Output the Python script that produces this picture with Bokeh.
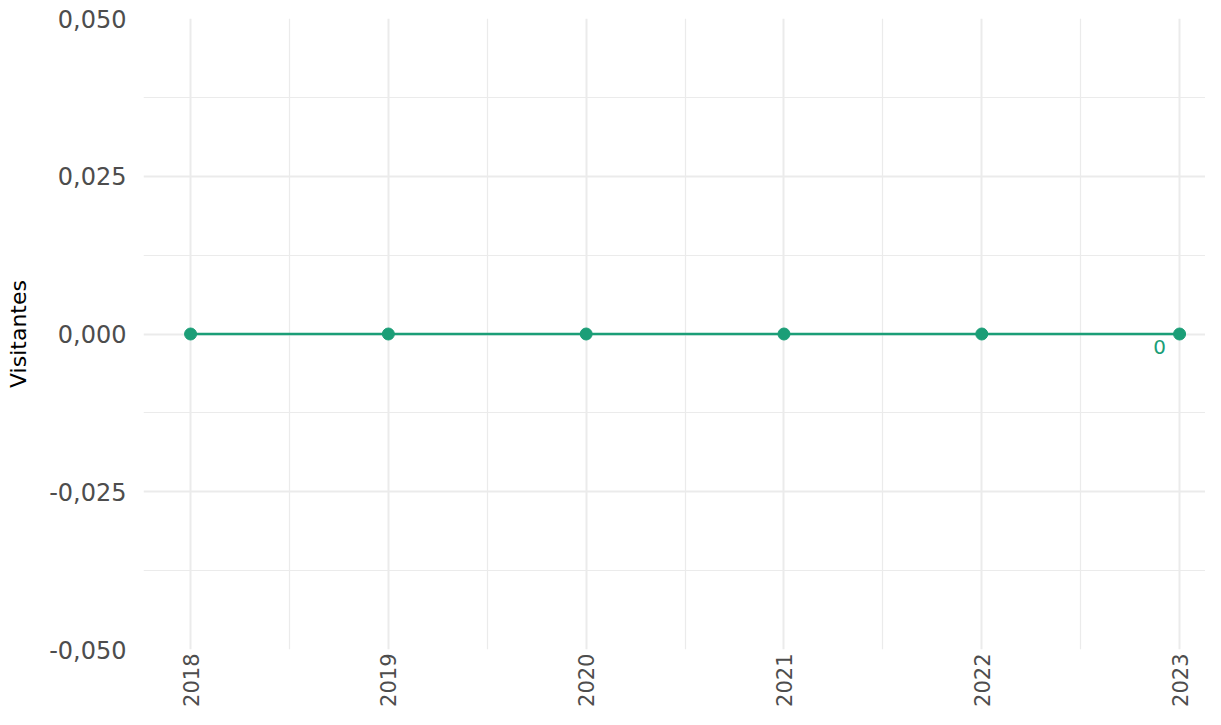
from bokeh.plotting import figure
from bokeh.models import (ColumnDataSource, Range1d, FixedTicker, CustomJSTickFormatter,
                          Label, LabelSet)
from bokeh.core.properties import value
from bokeh.embed import file_html
from bokeh.resources import INLINE

years = [2018, 2019, 2020, 2021, 2022, 2023]
visitors = [0, 0, 0, 0, 0, 0]
y_ticks = [-0.05, -0.025, 0.0, 0.025, 0.05]
y_minor = [-0.0375, -0.0125, 0.0125, 0.0375]
title_text = "Fuente: MinCIT"
y_title = "Visitantes"
last_label = ["0"]

green = "#1b9e77"
font = "DejaVu Sans"

W, H = 1205, 709
LEFT = 143
p = figure(width=W, height=H, output_backend="svg", toolbar_location=None,
           x_range=Range1d(2017.762, 2017.762 + (W - LEFT) / 197.8),
           y_range=Range1d(-0.05, 0.05),
           min_border_left=LEFT, min_border_right=0, min_border_top=18,
           min_border_bottom=H - 652)
p.outline_line_color = None
p.background_fill_color = "white"

# axes
p.xaxis.ticker = FixedTicker(ticks=years, minor_ticks=[y + 0.5 for y in years[:-1]])
p.yaxis.ticker = FixedTicker(ticks=y_ticks, minor_ticks=y_minor)
p.yaxis.formatter = CustomJSTickFormatter(code="return tick.toFixed(3).replace('.', ',');")
p.xaxis.major_label_orientation = 1.5708
for ax in (p.xaxis, p.yaxis):
    ax.axis_line_color = None
    ax.major_tick_line_color = None
    ax.minor_tick_line_color = None
    ax.major_tick_out = 0
    ax.major_tick_in = 0
    ax.minor_tick_out = 0
    ax.minor_tick_in = 0
    ax.major_label_text_font = font
    ax.major_label_text_color = "#4d4d4d"
p.xaxis.major_label_text_font_size = "21px"
p.yaxis.major_label_text_font_size = "24px"
p.yaxis.major_label_standoff = 17
p.xaxis.major_label_standoff = 4
p.yaxis.axis_label = y_title
p.yaxis.axis_label_text_font = font
p.yaxis.axis_label_text_font_size = "22px"
p.yaxis.axis_label_text_font_style = "normal"
p.yaxis.axis_label_text_color = "black"
p.yaxis.axis_label_standoff = 15

# grid
for g in (p.xgrid, p.ygrid):
    g.grid_line_color = "#ebebeb"
    g.grid_line_width = 2
    g.minor_grid_line_color = "#ebebeb"
    g.minor_grid_line_width = 1.2

src = ColumnDataSource(dict(x=years, y=visitors))
p.line("x", "y", source=src, line_color=green, line_width=2.5)
p.scatter("x", "y", source=src, size=12, fill_color=green, line_color=green)

lab_src = ColumnDataSource(dict(x=years[-1:], y=visitors[-1:], t=last_label))
p.add_layout(LabelSet(x="x", y="y", text="t", source=lab_src, x_offset=-20, y_offset=-13,
                      text_align="center", text_baseline="middle", text_color=green,
                      text_font=value(font), text_font_size="20px"))

p.add_layout(Label(x=690, y=H - 4, x_units="screen", y_units="screen",
                   text=title_text, text_align="center", text_baseline="alphabetic",
                   text_font=font, text_font_size="22px", text_color="black"))

open("out.html", "w").write(file_html(p, INLINE))
